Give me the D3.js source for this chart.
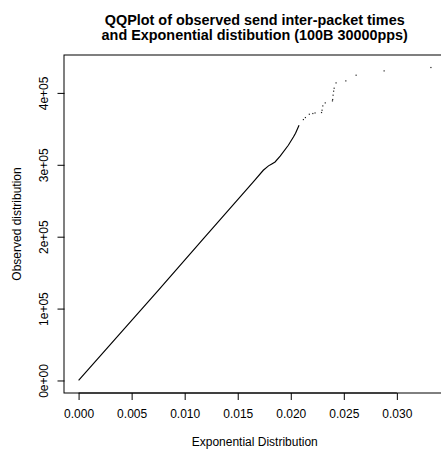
<!DOCTYPE html>
<html>
<head>
<meta charset="utf-8">
<script src="https://cdn.jsdelivr.net/npm/d3@7"></script>
<style>
  body { margin: 0; background: #fff; }
  svg { display: block; font-family: "Liberation Sans", Arial, sans-serif; }
</style>
</head>
<body>
<svg id="chart" width="441" height="453"></svg>
<script>
// dense part of the QQ plot (theoretical quantile, observed quantile)
const lineX = [0, 0.00751, 0.01175, 0.01647, 0.01741, 0.01790, 0.01821, 0.01852, 0.01900, 0.01977, 0.02025, 0.02045, 0.02078]
const lineY = [0, 125300, 197000, 276100, 292400, 298500, 301200, 303900, 312000, 327200, 338700, 344000, 355000]

// sparse upper tail, drawn as single points
const tailX = [0.02119, 0.02138, 0.02175, 0.02208, 0.02229, 0.02290, 0.02295, 0.02302, 0.02325, 0.02393, 0.02395, 0.02399, 0.02404, 0.02409, 0.02427, 0.02519, 0.02616, 0.02880, 0.03321]
const tailY = [362900, 365700, 370300, 371300, 372100, 372700, 375900, 381900, 386100, 388900, 390800, 396800, 402400, 406500, 413900, 416700, 424600, 430600, 435300]

const xTicks = [0, 0.005, 0.010, 0.015, 0.020, 0.025, 0.030]
const xTickLabels = ["0.000", "0.005", "0.010", "0.015", "0.020", "0.025", "0.030"]
const yTicks = [0, 100000, 200000, 300000, 400000]
const yTickLabels = ["0e+00", "1e+05", "2e+05", "3e+05", "4e+05"]

const titleLines = ["QQPlot of observed send inter-packet times", "and Exponential distibution (100B 30000pps)"]
const xLabel = "Exponential Distribution"
const yLabel = "Observed distribution"

const plot = {left: 64.5, right: 445, top: 55, bottom: 393}
const svg = d3.select("#chart")

// R style range: data extent padded by 4% on each side
const pad = (lo, hi) => [lo - 0.04 * (hi - lo), hi + 0.04 * (hi - lo)]
const allX = lineX.concat(tailX), allY = lineY.concat(tailY)

const x = d3.scaleLinear()
    .domain(pad(d3.min(allX), d3.max(allX)))
    .range([plot.left, plot.right])
const y = d3.scaleLinear()
    .domain(pad(d3.min(allY), d3.max(allY)))
    .range([plot.bottom, plot.top])

const xAxis = g => g
    .attr("transform", `translate(0, ${plot.bottom})`)
    .call(d3.axisBottom(x).tickValues(xTicks).tickSize(7).tickPadding(9)
        .tickFormat((d, i) => xTickLabels[i]))
    .call(g => g.select(".domain").remove())
    .call(g => g.selectAll("text").attr("font-size", 12).attr("fill", "#000")
        .attr("font-family", "Liberation Sans, Arial, sans-serif"))
const yAxis = g => g
    .attr("transform", `translate(${plot.left}, 0)`)
    .call(d3.axisLeft(y).tickValues(yTicks).tickSize(7)
        .tickFormat((d, i) => yTickLabels[i]))
    .call(g => g.select(".domain").remove())
    .call(g => g.selectAll("text")
        .attr("font-size", 12).attr("fill", "#000")
        .attr("font-family", "Liberation Sans, Arial, sans-serif")
        .attr("text-anchor", "middle").attr("dy", null)
        .attr("x", null)
        .attr("transform", "translate(-17, 0) rotate(-90)"))

svg.append("g").call(xAxis)
svg.append("g").call(yAxis)

// axis lines span first to last tick, like R
svg.append("line")
    .attr("x1", x(xTicks[0])).attr("x2", x(xTicks[xTicks.length - 1]))
    .attr("y1", plot.bottom).attr("y2", plot.bottom)
    .attr("stroke", "#000")

// box (sits on whole pixels, so it antialiases to grey like the original)
svg.append("rect")
    .attr("x", Math.floor(plot.left)).attr("y", plot.top)
    .attr("width", plot.right - plot.left).attr("height", plot.bottom - plot.top)
    .attr("fill", "none").attr("stroke", "#000")

// dense points
const line = d3.line().x(d => x(d[0])).y(d => y(d[1]))
svg.append("path")
    .datum(d3.zip(lineX, lineY))
    .attr("d", line)
    .attr("fill", "none")
    .attr("stroke", "#000")
    .attr("stroke-width", 1.15)

// tail points
svg.append("g")
    .selectAll("rect")
    .data(d3.zip(tailX, tailY))
    .join("rect")
        .attr("x", d => x(d[0]) - 0.6)
        .attr("y", d => y(d[1]) - 0.6)
        .attr("width", 1.2)
        .attr("height", 1.2)
        .attr("fill", "#222")

// titles
svg.append("g")
    .selectAll("text")
    .data(titleLines)
    .join("text")
        .attr("x", (plot.left + plot.right) / 2)
        .attr("y", (d, i) => 25 + i * 14.5)
        .attr("text-anchor", "middle")
        .attr("font-size", 14.4)
        .attr("font-weight", "bold")
        .text(d => d)

svg.append("text")
    .attr("x", (plot.left + plot.right) / 2)
    .attr("y", 446)
    .attr("text-anchor", "middle")
    .attr("font-size", 12)
    .text(xLabel)

svg.append("text")
    .attr("transform", `translate(21, ${(plot.top + plot.bottom) / 2}) rotate(-90)`)
    .attr("text-anchor", "middle")
    .attr("font-size", 12)
    .text(yLabel)
</script>
</body>
</html>
